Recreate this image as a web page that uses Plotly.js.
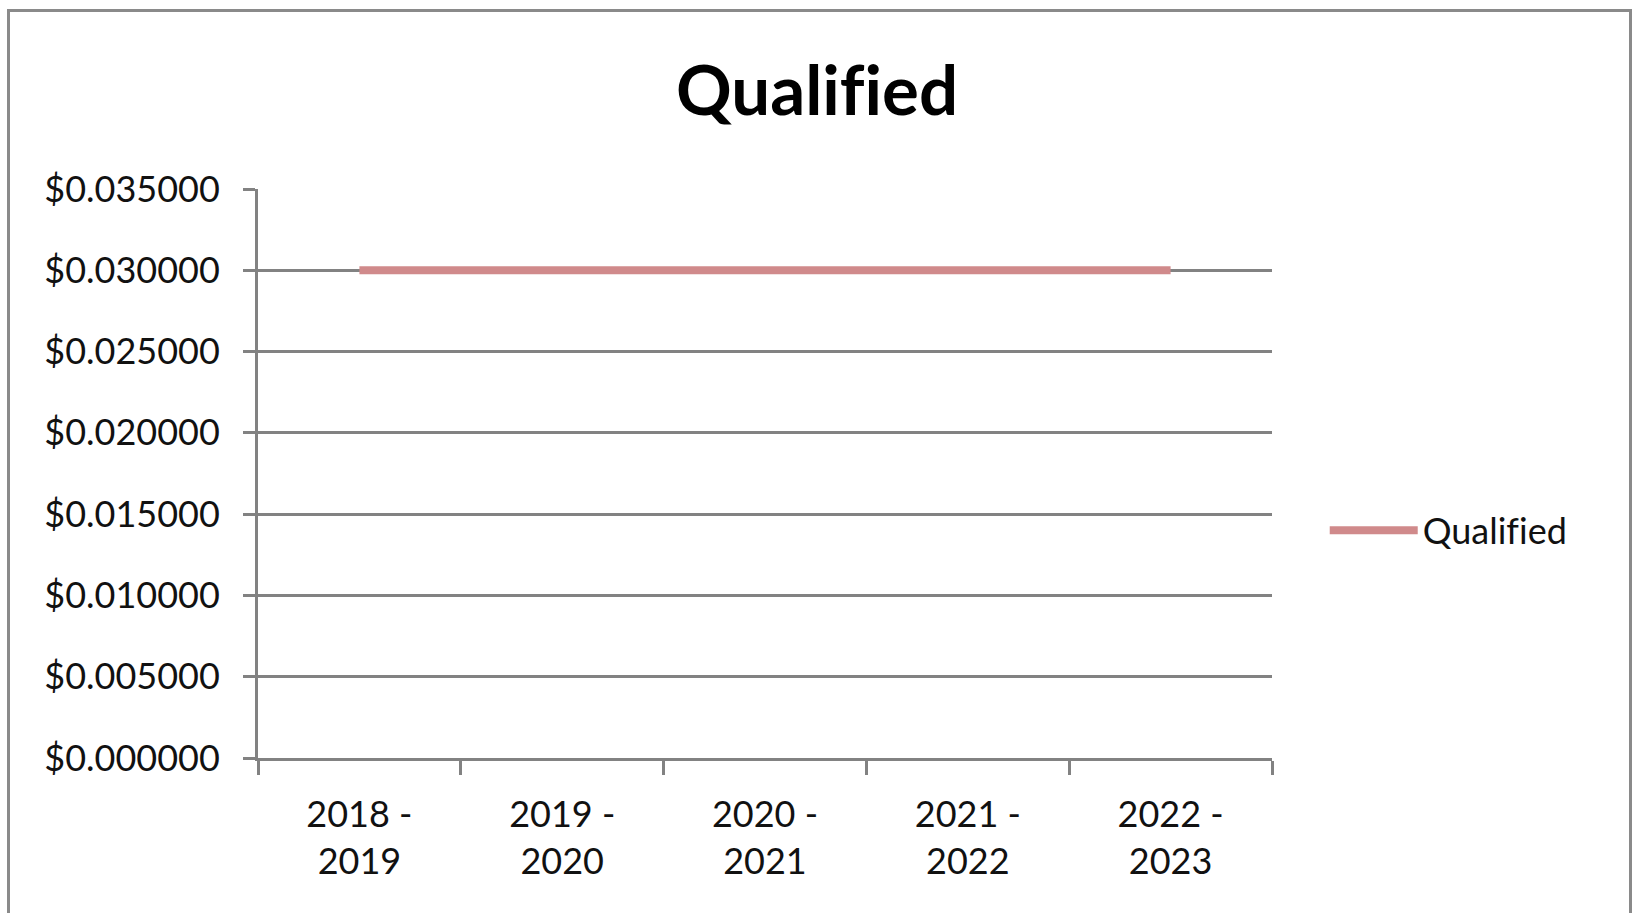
<!DOCTYPE html>
<html>
<head>
<meta charset="utf-8">
<script src="https://cdn.plot.ly/plotly-3.0.1.min.js"></script>
<style>
  html, body { margin: 0; padding: 0; background: #ffffff; }
  #wrap { position: relative; width: 1634px; height: 913px; overflow: hidden; }
  #chart { position: absolute; left: 0; top: 0; width: 1634px; height: 913px; }
  #chart text { font-variant-ligatures: none; font-feature-settings: "liga" 0; }
  #frame {
    position: absolute; left: 7px; top: 9px; width: 1619px; height: 960px;
    border: 3px solid #8a8a8a; pointer-events: none;
  }
</style>
</head>
<body>
<div id="wrap">
  <div id="chart"></div>
  <div id="frame"></div>
</div>
<script>
// Fiscal-year periods and the qualified rate for each
const periods = ['2018 -<br>2019', '2019 -<br>2020', '2020 -<br>2021', '2021 -<br>2022', '2022 -<br>2023'];
const qualified = [0.03, 0.03, 0.03, 0.03, 0.03];
const seriesName = 'Qualified';
const chartTitle = 'Qualified';

const gridGray = '#828282';

const traces = [{
  type: 'scatter',
  mode: 'lines',
  x: periods,
  y: qualified,
  name: seriesName,
  line: { color: '#d08a8b', width: 8 },
  hoverinfo: 'skip'
}];

const layout = {
  width: 1634,
  height: 913,
  paper_bgcolor: '#ffffff',
  plot_bgcolor: '#ffffff',
  font: { family: 'Lato, "Open Sans", sans-serif', size: 36, color: '#111111' },
  margin: { l: 258, r: 362, t: 189, b: 155, pad: 0 },
  title: {
    text: '<b>' + chartTitle + '</b>',
    font: { family: 'Lato, "Open Sans", sans-serif', size: 69, color: '#000000' },
    x: 0.5, xref: 'container', xanchor: 'center',
    y: 0.9, yref: 'container', yanchor: 'middle'
  },
  showlegend: true,
  legend: {
    x: 1.052, xanchor: 'left',
    y: 0.40, yanchor: 'middle',
    itemwidth: 88,
    font: { size: 36, color: '#111111' },
    bgcolor: 'rgba(0,0,0,0)'
  },
  xaxis: {
    type: 'category',
    range: [-0.5, periods.length - 0.5],
    tickson: 'boundaries',
    ticks: 'outside',
    ticklen: 14,
    tickwidth: 3,
    tickcolor: gridGray,
    ticklabelstandoff: 23,
    showline: true,
    linecolor: gridGray,
    linewidth: 3,
    showgrid: false,
    zeroline: false,
    tickfont: { size: 36, color: '#111111' }
  },
  yaxis: {
    range: [0, 0.035],
    dtick: 0.005,
    tick0: 0,
    tickprefix: '$',
    tickformat: '.6f',
    ticks: 'outside',
    ticklen: 12,
    tickwidth: 3,
    tickcolor: gridGray,
    ticklabelstandoff: 16,
    showline: true,
    linecolor: gridGray,
    linewidth: 3,
    showgrid: true,
    gridcolor: gridGray,
    gridwidth: 3,
    zeroline: false,
    tickfont: { size: 36, color: '#111111' }
  }
};

Plotly.newPlot('chart', traces, layout, { displayModeBar: false, staticPlot: true });
</script>
</body>
</html>
